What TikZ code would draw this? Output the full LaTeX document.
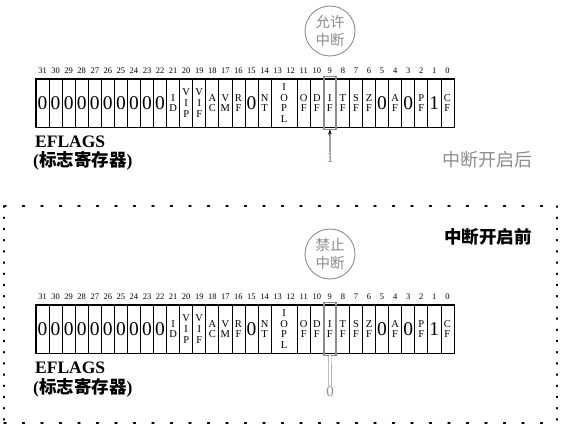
\documentclass[tikz,border=0pt]{standalone}
\usepackage{fontspec}
\setmainfont{Liberation Serif}
\newfontfamily\cjk{Noto Sans CJK SC}
\usetikzlibrary{arrows.meta}
\definecolor{lgray}{gray}{0.55}
\newcommand\pitch{13.06}
\tikzset{
  cell/.style={draw, line width=0.7pt, inner sep=0pt, minimum height=48pt, anchor=center},
  big/.style={font=\fontsize{19.5}{19.5}\selectfont},
  stk/.style={align=center, font=\fontsize{10.5}{10.8}\selectfont},
  bitnum/.style={inner sep=0pt, font=\fontsize{8.5}{8.5}\selectfont},
  ring/.style={circle, draw=lgray, line width=0.9pt, minimum size=50pt, inner sep=0pt, align=center, text=lgray, font=\cjk\fontsize{14.5}{18.5}\selectfont},
  eflags/.style={anchor=west, inner sep=0pt, font=\bfseries\fontsize{17.5}{17.5}\selectfont},
  cname/.style={anchor=west, inner sep=0pt, font=\bfseries\fontsize{17.5}{17.5}\selectfont},
  grayval/.style={text=lgray, inner sep=1pt, font=\fontsize{15}{15}\selectfont},
  hilite/.style={draw=lgray, line width=1.6pt},
  dotline/.style={line width=1.4pt, line cap=round}
}
\newcommand\register[2]{%
  \foreach \l/\w/\t/\f in {0/1/0/big,1/1/0/big,2/1/0/big,3/1/0/big,4/1/0/big,5/1/0/big,6/1/0/big,7/1/0/big,8/1/0/big,9/1/0/big,
    10/1/{I\\D}/stk,11/1/{V\\I\\P}/stk,12/1/{V\\I\\F}/stk,13/1/{A\\C}/stk,14/1/{V\\M}/stk,15/1/{R\\F}/stk,16/1/0/big,17/1/{N\\T}/stk,
    18/2/{I\\O\\P\\L}/stk,20/1/{O\\F}/stk,21/1/{D\\F}/stk,22/1/{I\\F}/stk,23/1/{T\\F}/stk,24/1/{S\\F}/stk,25/1/{Z\\F}/stk,
    26/1/0/big,27/1/{A\\F}/stk,28/1/0/big,29/1/{P\\F}/stk,30/1/1/big,31/1/{C\\F}/stk}
  {\node[cell,\f, minimum width={\w*\pitch pt}] (#1-\l) at ({36+(\l+\w/2)*\pitch}, {#2+24}) {\t};}
  \foreach \i in {0,...,31}
  {\pgfmathtruncatemacro\bn{31-\i}
   \node[bitnum] (#1-n\i) at ({36+(\i+0.5)*\pitch}, {#2-8}) {\bn};}
  \draw[line width=1.1pt] (#1-0.north west) rectangle (#1-31.south east);
  \draw[hilite] ([xshift=0.8pt,yshift=2pt]#1-22.north west) rectangle ([xshift=-0.8pt,yshift=-2pt]#1-22.south east);
}
\begin{document}
\begin{tikzpicture}[x=1pt,y=-1pt]
\useasboundingbox (0,0) rectangle (561,427);
% top: after enabling
\node[ring] (c1) at (330,31) {允许\\中断};
\register{t}{79}
\node[eflags] (ef1) at (35,142) {EFLAGS};
\node[cname] (cn1) at (33,161) {({\cjk 标志寄存器})};
\node[grayval] (one) at (330,158) {1};
\draw[-{Stealth[length=5pt,width=3.5pt]}, line width=0.8pt] (one.north) -- ([yshift=-2pt]t-22.south);
\node[text=lgray, font=\cjk\fontsize{18}{18}\selectfont] (after) at (487,160) {中断开启后};
% bottom: before enabling (dotted frame)
\coordinate (fa) at (4,206);
\coordinate (fb) at (557,206);
\coordinate (fc) at (557,423);
\coordinate (fd) at (4,423);
\draw[dotline, dash pattern=on 2pt off 16.5pt] (fa) -- (fb);
\draw[dotline, dash pattern=on 2pt off 16.5pt] (fd) -- (fc);
\draw[dotline, dash pattern=on 1.2pt off 10pt] (fa) -- (fd);
\draw[dotline, dash pattern=on 1.2pt off 10pt] (fb) -- (fc);
\node[font=\cjk\bfseries\fontsize{17.5}{17.5}\selectfont] (before) at (488,237) {中断开启前};
\node[ring] (c2) at (330,254) {禁止\\中断};
\register{b}{305}
\node[eflags] (ef2) at (35,368) {EFLAGS};
\node[cname] (cn2) at (33,388) {({\cjk 标志寄存器})};
\node[grayval] (zero) at (330,392) {0};
\draw[lgray, double, double distance=2pt, line width=0.6pt] (zero.north) -- ([yshift=-2pt]b-22.south);
\end{tikzpicture}
\end{document}
